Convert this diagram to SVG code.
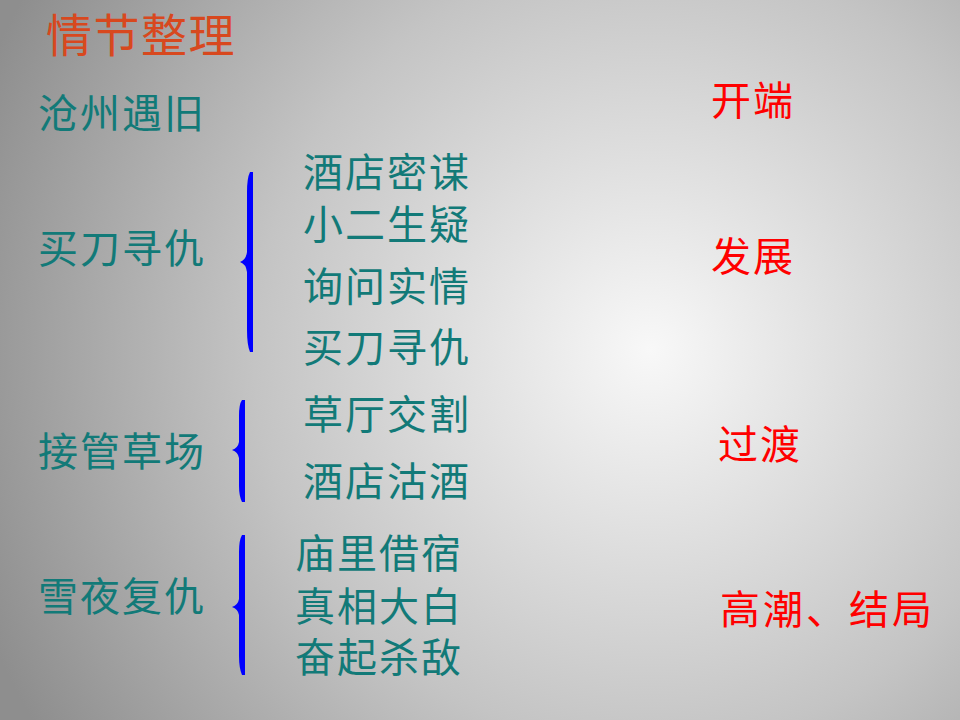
<svg xmlns="http://www.w3.org/2000/svg" width="960" height="720" viewBox="0 0 960 720">
<defs>
<radialGradient id="bg" cx="650" cy="350" r="720" gradientUnits="userSpaceOnUse">
<stop offset="0" stop-color="#f8f8f8"/>
<stop offset="0.55" stop-color="#c4c4c4"/>
<stop offset="1" stop-color="#8e8e8e"/>
</radialGradient>
<style>
text{font-family:"Noto Sans CJK SC","Noto Sans CJK TC",sans-serif;font-size:40px;letter-spacing:2px;}
.t{fill:#d8481e;font-size:46px;letter-spacing:1.5px;}
.g{fill:#127a78;}
.r{fill:#ff0000;}
.w{letter-spacing:3px;}
.br{fill:#0000ff;}
</style>
</defs>
<rect width="960" height="720" fill="url(#bg)"/>
<g id="title"><text class="t" x="46" y="52">情节整理</text></g>
<g id="n-cangzhou"><text class="g" x="38" y="128">沧州遇旧</text></g>
<g id="n-maidao"><text class="g" x="38" y="263">买刀寻仇</text></g>
<g id="n-jieguan"><text class="g" x="38" y="466">接管草场</text></g>
<g id="n-xueye"><text class="g" x="38" y="611">雪夜复仇</text></g>
<g id="n-sub1">
<text class="g" x="303" y="187">酒店密谋</text>
<text class="g" x="303" y="239">小二生疑</text>
<text class="g" x="303" y="301">询问实情</text>
<text class="g" x="303" y="362">买刀寻仇</text>
</g>
<g id="n-sub2">
<text class="g" x="303" y="429">草厅交割</text>
<text class="g" x="303" y="496">酒店沽酒</text>
</g>
<g id="n-sub3">
<text class="g" x="295" y="568">庙里借宿</text>
<text class="g" x="295" y="621">真相大白</text>
<text class="g" x="295" y="672">奋起杀敌</text>
</g>
<g id="n-stages">
<text class="r" x="711" y="115">开端</text>
<text class="r" x="711" y="271">发展</text>
<text class="r" x="718" y="459">过渡</text>
<text class="r w" x="720" y="624">高潮、结局</text>
</g>
<g id="connectors">
<path class="br" d="M253 172 L253 352 L250 352 Q247 345 247 330 L247 272 Q246 264 240 262 Q246 260 247 252 L247 192 Q247 178 250 172 Z"/>
<path class="br" d="M245 400 L245 502 L242 502 Q239 496 239 486 L239 458 Q238 452 232 450 Q238 448 239 442 L239 416 Q239 404 242 400 Z"/>
<path class="br" d="M245 535 L245 675 L242 675 Q239 668 239 656 L239 615 Q238 609 232 607 Q238 605 239 599 L239 552 Q239 540 242 535 Z"/>
</g>
</svg>
